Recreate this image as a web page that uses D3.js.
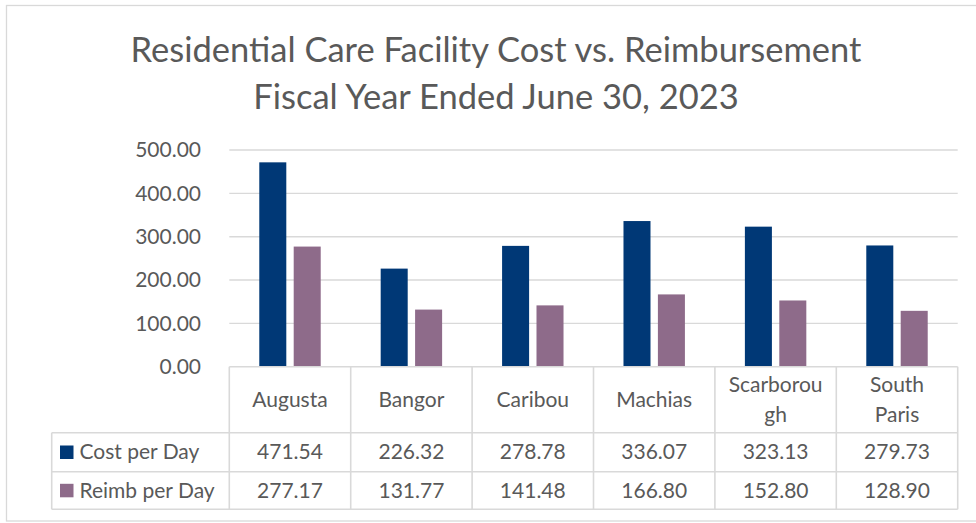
<!DOCTYPE html>
<html><head><meta charset="utf-8">
<script src="https://cdn.jsdelivr.net/npm/d3@7"></script>
<style>
html,body{margin:0;padding:0;background:#fff;}
svg{display:block;font-family:Lato,"Open Sans",sans-serif;}
</style></head>
<body><svg id="c" width="976" height="523"></svg>
<script>
const titleLines = ["Residential Care Facility Cost vs. Reimbursement", "Fiscal Year Ended June 30, 2023"];
const categories = ["Augusta", "Bangor", "Caribou", "Machias", "Scarborough", "South Paris"];
const categoryLabelLines = [["Augusta"], ["Bangor"], ["Caribou"], ["Machias"], ["Scarborou", "gh"], ["South", "Paris"]];
const seriesNames = ["Cost per Day", "Reimb per Day"];
const costPerDay = [471.54, 226.32, 278.78, 336.07, 323.13, 279.73];
const reimbPerDay = [277.17, 131.77, 141.48, 166.80, 152.80, 128.90];
const yTicks = [0, 100, 200, 300, 400, 500];
const colors = ["#003876", "#8e6b8a"];

const series = [costPerDay, reimbPerDay];
const svg = d3.select("#c");
const textColor = "#595959", gridColor = "#d9d9d9";
const fs = 21;

// outer chart border
svg.append("rect").attr("x", 6.5).attr("y", 5.5).attr("width", 980).attr("height", 515.5)
  .attr("fill", "none").attr("stroke", gridColor).attr("stroke-width", 1.3);

// title
svg.selectAll("text.title").data(titleLines).join("text").attr("class", "title")
  .attr("x", 496).attr("y", (d, i) => 62 + i * 47)
  .attr("text-anchor", "middle").attr("fill", textColor)
  .attr("font-size", 34.5).attr("font-weight", 400).text(d => d);

const x0 = d3.scaleBand().domain(categories).range([229.3, 957.7]);
const y = d3.scaleLinear().domain([0, 500]).range([366.7, 150]);
const bw = x0.bandwidth();
const x1 = d3.scaleBand().domain(seriesNames).range([bw * 0.247, bw * 0.753]).paddingInner(0.215);

// gridlines
svg.append("g").selectAll("line").data(yTicks.filter(t => t > 0)).join("line")
  .attr("x1", 229.3).attr("x2", 957.7).attr("y1", d => y(d)).attr("y2", d => y(d))
  .attr("stroke", gridColor).attr("stroke-width", 1.4);

// y axis labels
const yAxis = d3.axisLeft(y).tickValues(yTicks).tickFormat(d3.format(".2f")).tickSize(0).tickPadding(0);
const ga = svg.append("g").attr("transform", "translate(201,0)").call(yAxis);
ga.select(".domain").remove();
ga.selectAll("text").attr("fill", textColor).attr("font-size", fs).attr("font-family", "Lato,sans-serif");

// bars
seriesNames.forEach((s, si) => {
  svg.append("g").selectAll("rect").data(series[si]).join("rect")
    .attr("x", (d, i) => x0(categories[i]) + x1(s))
    .attr("width", x1.bandwidth())
    .attr("y", d => y(d)).attr("height", d => y(0) - y(d))
    .attr("fill", colors[si]);
});

// data table
const tTop = y(0), r1 = 432.7, r2 = 471.7, tBot = 509.3, legL = 51.7;
const tg = svg.append("g").attr("stroke", gridColor).attr("stroke-width", 1.6).attr("fill", "none");
tg.append("line").attr("x1", 229.3).attr("x2", 957.7).attr("y1", tTop).attr("y2", tTop);
[r1, r2, tBot].forEach(yy => tg.append("line").attr("x1", legL).attr("x2", 957.7).attr("y1", yy).attr("y2", yy));
tg.append("line").attr("x1", legL).attr("x2", legL).attr("y1", r1).attr("y2", tBot);
const vx = categories.map(c => x0(c)).concat([957.7]);
vx.forEach(xx => tg.append("line").attr("x1", xx).attr("x2", xx).attr("y1", tTop).attr("y2", tBot));

// header labels
categories.forEach((c, i) => {
  const lines = categoryLabelLines[i];
  const cx = x0(c) + bw / 2;
  const cy = (tTop + r1) / 2;
  lines.forEach((l, li) => {
    svg.append("text").attr("x", cx).attr("y", cy + (li - (lines.length - 1) / 2) * 30 + 7)
      .attr("text-anchor", "middle").attr("fill", textColor).attr("font-size", fs).text(l);
  });
});

// rows
const rowCenters = [(r1 + r2) / 2, (r2 + tBot) / 2];
seriesNames.forEach((s, si) => {
  const cy = rowCenters[si];
  svg.append("rect").attr("x", 60).attr("y", cy - 6.7).attr("width", 13.5).attr("height", 13.5).attr("fill", colors[si]);
  svg.append("text").attr("x", 79.5).attr("y", cy + 7).attr("fill", textColor).attr("font-size", fs).text(s);
  series[si].forEach((v, i) => {
    svg.append("text").attr("x", x0(categories[i]) + bw / 2).attr("y", cy + 7)
      .attr("text-anchor", "middle").attr("fill", textColor).attr("font-size", fs).text(d3.format(".2f")(v));
  });
});
</script></body></html>
